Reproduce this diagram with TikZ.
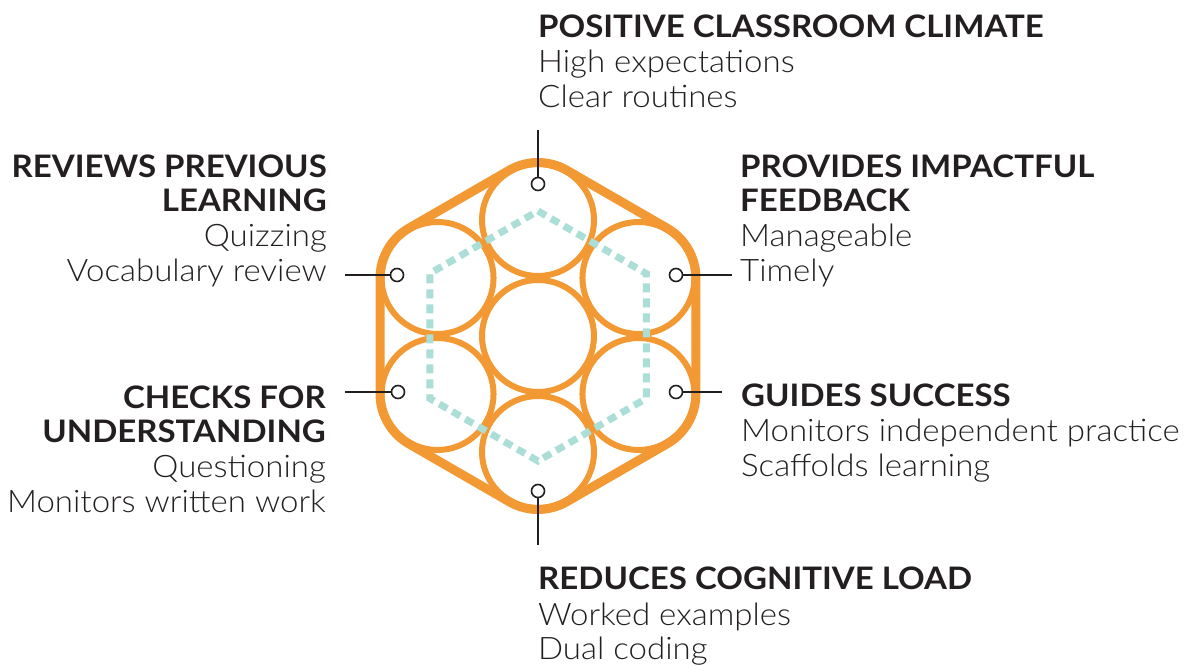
\documentclass[tikz,border=0pt]{standalone}
\usepackage{fontspec}
\setmainfont{Lato}[FakeStretch=1.065]
\newfontfamily\lightfont{Lato Light}[FakeStretch=1.065]
\usetikzlibrary{calc}
\definecolor{hexorange}{RGB}{243,153,52}
\definecolor{dashteal}{RGB}{170,222,214}
\definecolor{inkc}{RGB}{35,31,32}
\begin{document}
\begin{tikzpicture}[x=1pt,y=1pt,
  petal/.style={draw=hexorange,line width=6pt},
  hull/.style={draw=hexorange,line width=9pt,line join=round},
  guide/.style={draw=dashteal,line width=7pt,dash pattern=on 9pt off 6pt},
  pin/.style={circle,draw=inkc,fill=white,line width=1.6pt,minimum size=13pt,inner sep=0pt},
  lead/.style={draw=inkc,line width=1.6pt},
  headl/.style={inner sep=0pt,text=inkc,font=\fontsize{31}{35}\selectfont\bfseries},
  bodyl/.style={inner sep=0pt,text=inkc,font=\fontsize{31}{35}\selectfont\lightfont},
]
\useasboundingbox (0,0) rectangle (1192,666);
\fill[white] (0,0) rectangle (1192,666);
% circle centres
\coordinate (c0) at (538,330);
\foreach \n/\a in {t/90,tr/30,br/-30,b/-90,bl/-150,tl/150}{
  \coordinate (c\n) at ($(c0)+(\a:116pt)$);
}
% outer hull
\draw[hull]
  ($(ct)+(60:57.5pt)$) arc[start angle=60,end angle=120,radius=57.5pt]
  -- ($(ctl)+(120:57.5pt)$) arc[start angle=120,end angle=180,radius=57.5pt]
  -- ($(cbl)+(180:57.5pt)$) arc[start angle=180,end angle=240,radius=57.5pt]
  -- ($(cb)+(240:57.5pt)$) arc[start angle=240,end angle=300,radius=57.5pt]
  -- ($(cbr)+(300:57.5pt)$) arc[start angle=300,end angle=360,radius=57.5pt]
  -- ($(ctr)+(0:57.5pt)$) arc[start angle=0,end angle=60,radius=57.5pt]
  -- cycle;
% seven circles
\foreach \n in {0,t,tr,br,b,bl,tl}{
  \draw[petal] (c\n) circle[radius=56pt];
}
% dashed hexagon
\draw[guide] ($(c0)+(90:125pt)$) -- ($(c0)+(30:125pt)$) -- ($(c0)+(-30:125pt)$)
  -- ($(c0)+(-90:125pt)$) -- ($(c0)+(-150:125pt)$) -- ($(c0)+(150:125pt)$) -- cycle;
% pins and leads
\node[pin] (pt) at (538,482) {};
\node[pin] (pb) at (538,175) {};
\node[pin] (ptl) at (397,391) {};
\node[pin] (pbl) at (398,274) {};
\node[pin] (ptr) at (676,391) {};
\node[pin] (pbr) at (676,274) {};
\coordinate (et) at (538,536);
\coordinate (eb) at (538,121);
\coordinate (etl) at (345,391);
\coordinate (ebl) at (345,274);
\coordinate (etr) at (732,391);
\coordinate (ebr) at (722,274);
\draw[lead] (et) -- (pt);
\draw[lead] (eb) -- (pb);
\draw[lead] (etl) -- (ptl);
\draw[lead] (ebl) -- (pbl);
\draw[lead] (etr) -- (ptr);
\draw[lead] (ebr) -- (pbr);
% top block
\node[headl,anchor=base west] (t1) at (538,628.7) {POSITIVE CLASSROOM CLIMATE};
\node[bodyl,anchor=base west] (t2) at (538,593.3) {High expectations};
\node[bodyl,anchor=base west] (t3) at (538,558.7) {Clear routines};
% right upper
\node[headl,anchor=base west] (r1) at (740,488.7) {PROVIDES IMPACTFUL};
\node[headl,anchor=base west] (r2) at (740,454.3) {FEEDBACK};
\node[bodyl,anchor=base west] (r3) at (740,419.3) {Manageable};
\node[bodyl,anchor=base west] (r4) at (740,384.3) {Timely};
% left upper
\node[headl,anchor=base east] (l1) at (327,488.7) {REVIEWS PREVIOUS};
\node[headl,anchor=base east] (l2) at (327,454.3) {LEARNING};
\node[bodyl,anchor=base east] (l3) at (327,419.3) {Quizzing};
\node[bodyl,anchor=base east] (l4) at (327,384.3) {Vocabulary review};
% right lower
\node[headl,anchor=base west] (s1) at (741,259.3) {GUIDES SUCCESS};
\node[bodyl,anchor=base west] (s2) at (741,224.3) {Monitors independent practice};
\node[bodyl,anchor=base west] (s3) at (741,189.3) {Scaffolds learning};
% left lower
\node[headl,anchor=base east] (k1) at (326,257.7) {CHECKS FOR};
\node[headl,anchor=base east] (k2) at (326,223) {UNDERSTANDING};
\node[bodyl,anchor=base east] (k3) at (326,188) {Questioning};
\node[bodyl,anchor=base east] (k4) at (326,153) {Monitors written work};
% bottom block
\node[headl,anchor=base west] (b1) at (538,76) {REDUCES COGNITIVE LOAD};
\node[bodyl,anchor=base west] (b2) at (538,40.3) {Worked examples};
\node[bodyl,anchor=base west] (b3) at (538,6) {Dual coding};
\end{tikzpicture}
\end{document}
